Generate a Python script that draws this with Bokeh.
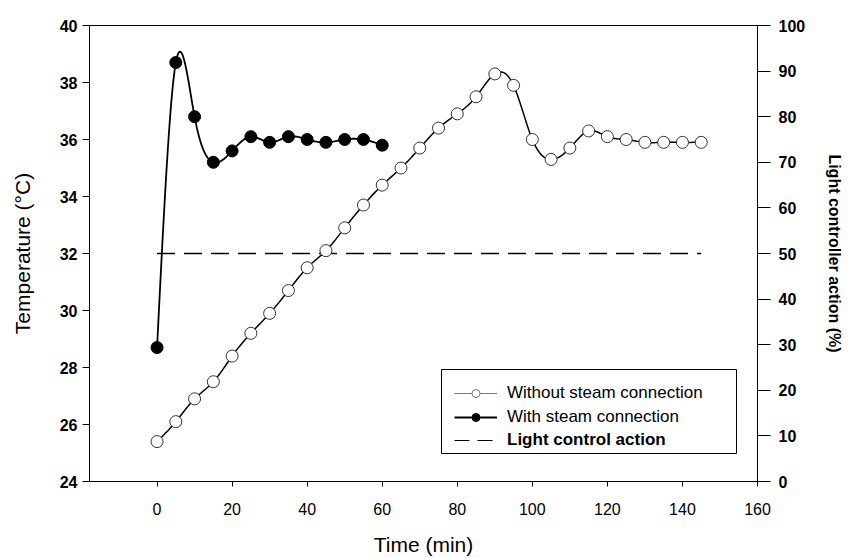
import numpy as np
from bokeh.plotting import figure
from bokeh.models import (Range1d, LinearAxis, SingleIntervalTicker, Legend,
                          LegendItem, BoxAnnotation)
from bokeh.embed import file_html
from bokeh.resources import INLINE

# ---------------- data ----------------
time_without = [0, 5, 10, 15, 20, 25, 30, 35, 40, 45, 50, 55, 60, 65, 70,
                75, 80, 85, 90, 95, 100, 105, 110, 115, 120, 125, 130, 135, 140, 145]
temp_without = [25.4, 26.1, 26.9, 27.5, 28.4, 29.2, 29.9, 30.7, 31.5, 32.1,
                32.9, 33.7, 34.4, 35.0, 35.7, 36.4, 36.9, 37.5, 38.3, 37.9,
                36.0, 35.3, 35.7, 36.3, 36.1, 36.0, 35.9, 35.9, 35.9, 35.9]

time_with = [0, 5, 10, 15, 20, 25, 30, 35, 40, 45, 50, 55, 60]
temp_with = [28.7, 38.7, 36.8, 35.2, 35.6, 36.1, 35.9, 36.1, 36.0, 35.9,
             36.0, 36.0, 35.8]

light_time = [0, 145]
light_action = [50, 50]

x_ticks_step = 20
left_ticks_step = 2
right_ticks_step = 10

FONT = "Liberation Sans"


def natural_spline(xs, ys, per=16):
    """Smooth curve drawn through the data points (natural cubic spline)."""
    x = np.asarray(xs, float)
    y = np.asarray(ys, float)
    n = len(x)
    h = np.diff(x)
    A = np.zeros((n, n))
    b = np.zeros(n)
    A[0, 0] = A[-1, -1] = 1.0
    for i in range(1, n - 1):
        A[i, i - 1] = h[i - 1]
        A[i, i] = 2 * (h[i - 1] + h[i])
        A[i, i + 1] = h[i]
        b[i] = 6 * ((y[i + 1] - y[i]) / h[i] - (y[i] - y[i - 1]) / h[i - 1])
    M = np.linalg.solve(A, b)
    xx, yy = [], []
    for i in range(n - 1):
        t = np.linspace(x[i], x[i + 1], per, endpoint=(i == n - 2))
        a = x[i + 1] - t
        c = t - x[i]
        s = ((M[i] * a ** 3 + M[i + 1] * c ** 3) / (6 * h[i])
             + (y[i] / h[i] - M[i] * h[i] / 6) * a
             + (y[i + 1] / h[i] - M[i + 1] * h[i] / 6) * c)
        xx.extend(t.tolist())
        yy.extend(s.tolist())
    return xx, yy


p = figure(width=851, height=558, output_backend="svg", toolbar_location=None,
           x_range=Range1d(-18, 160), y_range=Range1d(24, 40),
           min_border_left=89, min_border_right=94, min_border_top=25,
           min_border_bottom=76)
p.extra_y_ranges = {"pct": Range1d(0, 100)}

p.xgrid.visible = False
p.ygrid.visible = False
p.outline_line_color = "black"
p.outline_line_width = 1
p.background_fill_color = "white"
p.border_fill_color = "white"

# bottom axis
xa = p.xaxis[0]
xa.ticker = SingleIntervalTicker(interval=x_ticks_step, num_minor_ticks=0)
xa.axis_label = "Time (min)"
xa.axis_label_text_font = FONT
xa.axis_label_text_font_size = "21px"
xa.axis_label_text_font_style = "normal"
xa.axis_label_standoff = 15
xa.major_label_text_font = FONT
xa.major_label_text_font_size = "16px"
xa.major_label_standoff = 16
xa.major_tick_out = 5
xa.major_tick_in = 0
xa.minor_tick_out = 0
xa.minor_tick_in = 0
xa.axis_line_color = "black"
xa.major_tick_line_color = "black"
xa.major_label_text_color = "black"
xa.axis_label_text_color = "black"

# left axis
ya = p.yaxis[0]
ya.ticker = SingleIntervalTicker(interval=left_ticks_step, num_minor_ticks=0)
ya.axis_label = "Temperature (°C)"
ya.axis_label_text_font = FONT
ya.axis_label_text_font_size = "21px"
ya.axis_label_text_font_style = "normal"
ya.axis_label_standoff = 23
ya.major_label_text_font = FONT
ya.major_label_text_font_size = "16px"
ya.major_label_text_font_style = "bold"
ya.major_label_standoff = 5
ya.major_tick_out = 7
ya.major_tick_in = 0
ya.minor_tick_out = 0
ya.minor_tick_in = 0
ya.axis_line_color = "black"
ya.major_tick_line_color = "black"
ya.major_label_text_color = "black"
ya.axis_label_text_color = "black"

# right axis
ra = LinearAxis(y_range_name="pct",
                ticker=SingleIntervalTicker(interval=right_ticks_step, num_minor_ticks=0))
ra.axis_label = "Light controller action (%)"
ra.axis_label_text_font = FONT
ra.axis_label_text_font_size = "16px"
ra.axis_label_text_font_style = "bold"
ra.axis_label_standoff = 18
ra.major_label_text_font = FONT
ra.major_label_text_font_size = "16px"
ra.major_label_text_font_style = "bold"
ra.major_label_standoff = 8
ra.major_tick_out = 13
ra.major_tick_in = 0
ra.minor_tick_out = 0
ra.minor_tick_in = 0
ra.axis_line_color = "black"
ra.major_tick_line_color = "black"
ra.major_label_text_color = "black"
ra.axis_label_text_color = "black"
p.add_layout(ra, "right")

# ---------------- glyphs ----------------
lc_r = p.line(light_time, light_action, y_range_name="pct", line_color="black",
              line_width=1.3, line_dash="18 9")

sx1, sy1 = natural_spline(time_without, temp_without)
l1 = p.line(sx1, sy1, line_color="black", line_width=1.5)
s1 = p.scatter(time_without, temp_without, marker="circle", size=12,
               fill_color="white", line_color="#333333", line_width=1)

sx2, sy2 = natural_spline(time_with, temp_with)
l2 = p.line(sx2, sy2, line_color="black", line_width=1.8)
s2 = p.scatter(time_with, temp_with, marker="circle", size=12,
               fill_color="black", line_color="black")

# legend-styled copies of the series (hidden in the plot, shown in legend)
lg1_line = p.line(time_without, temp_without, line_color="#777777", line_width=1,
                  visible=False)
lg1_mark = p.scatter(time_without, temp_without, marker="circle", size=9,
                     fill_color="white", line_color="#777777", line_width=1,
                     visible=False)
lg2_line = p.line(time_with, temp_with, line_color="black", line_width=2,
                  visible=False)
lg2_mark = p.scatter(time_with, temp_with, marker="circle", size=11,
                     fill_color="black", line_color="black", visible=False)
lg3_line = p.line(light_time, light_action, y_range_name="pct", line_color="black",
                  line_width=1.2, line_dash="15 8", visible=False)

box = BoxAnnotation(left=352, right=647, bottom=28, top=112,
                    left_units="screen", right_units="screen",
                    top_units="screen", bottom_units="screen",
                    fill_color="white", fill_alpha=1.0,
                    line_color="black", line_width=1, line_alpha=1.0)
p.add_layout(box)


def make_legend(items, loc, style):
    lg = Legend(items=items, location=loc, orientation="vertical",
                border_line_alpha=0, background_fill_alpha=0,
                padding=0, margin=0, spacing=4,
                glyph_width=43, glyph_height=20, label_height=20,
                label_standoff=10, label_text_font=FONT,
                label_text_font_size="17px", label_text_font_style=style,
                label_text_color="black", inactive_fill_alpha=0,
                click_policy="none")
    return lg


leg_a = make_legend([
    LegendItem(label="Without steam connection", renderers=[lg1_line, lg1_mark]),
    LegendItem(label="With steam connection", renderers=[lg2_line, lg2_mark]),
], (365, 54), "normal")
leg_b = make_legend([
    LegendItem(label="Light control action", renderers=[lg3_line]),
], (365, 31), "bold")
p.add_layout(leg_a)
p.add_layout(leg_b)

open("out.html", "w").write(file_html(p, INLINE))
